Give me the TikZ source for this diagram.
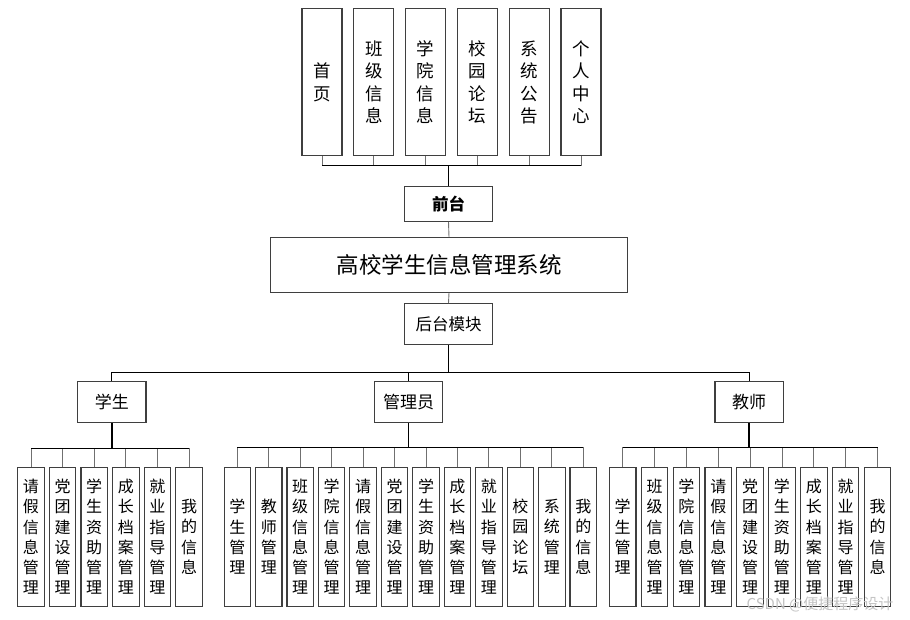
\documentclass[tikz,border=0pt]{standalone}
\usepackage{fontspec}
\setmainfont{Noto Sans CJK SC}
\XeTeXlinebreaklocale "zh"
\XeTeXlinebreakskip=0pt plus 1pt
\usetikzlibrary{positioning,calc}
\definecolor{boxEdge}{HTML}{3F3F3F}
\definecolor{stemGray}{HTML}{707070}
\definecolor{markGray}{HTML}{C4C4C4}

\tikzset{
  box/.style={draw=boxEdge, line width=1.1pt, fill=white, inner sep=0pt, align=center},
  topbox/.style={box, minimum width=40pt, minimum height=146.7pt, text width=20pt, font=\fontsize{17.5}{22.5}\selectfont},
  subbox/.style={box, minimum width=26.5pt, minimum height=139pt, text width=18pt, font=\fontsize{16}{20.2}\selectfont},
  rolebox/.style={box, minimum width=68.4pt, minimum height=41.3pt, font=\fontsize{17}{20}\selectfont},
  link/.style={stemGray, line width=0.9pt},
  bus/.style={black, line width=1pt},
  trunk/.style={black, line width=1.8pt},
}

\begin{document}
\begin{tikzpicture}[x=1pt, y=-1pt]
  \useasboundingbox (0,0) rectangle (910,620);

  % front end pages
  \foreach \t [count=\i] in {首页, 班级信息, 学院信息, 校园论坛, 系统公告, 个人中心}
    \node[topbox] (top\i) at ({322+51.8*(\i-1)}, 82.3) {\t};
  \node[box, minimum width=87.6pt, minimum height=34.6pt, font=\fontsize{16.5}{20}\selectfont\bfseries] (front) at (448.5,204) {前台};
  \node[box, minimum width=356.6pt, minimum height=54.6pt, font=\fontsize{22.5}{26}\selectfont] (sys) at (449,265) {高校学生信息管理系统};
  \node[box, minimum width=87.6pt, minimum height=41pt, font=\fontsize{16.5}{20}\selectfont] (back) at (448.5,324.2) {后台模块};

  \draw[trunk] (front.north) -- ++(0,-21) coordinate (fbus);
  \foreach \i in {1,...,6}
    \draw[link] (top\i.south) |- (fbus);
  \draw[bus] (top1.south |- fbus) -- (top6.south |- fbus);
  \draw[link] (front.south) -- (sys.north);
  \draw[link] (sys.south) -- (back.north);

  % roles
  \node[rolebox] (stu) at (111.8,401.8) {学生};
  \node[rolebox] (adm) at (408.5,401.8) {管理员};
  \node[rolebox] (tea) at (749.2,401.8) {教师};
  \draw[trunk] (back.south) -- ++(0,27) coordinate (hbus);
  \draw[bus] (stu.north) |- (hbus) -| (tea.north);
  \draw[bus] (adm.north) -- (adm.north |- hbus);

  % student functions
  \foreach \t [count=\i] in {请假信息管理, 党团建设管理, 学生资助管理, 成长档案管理, 就业指导管理, 我的信息}
    \node[subbox] (s\i) at ({31+31.6*(\i-1)}, 536.8) {\t};
  \draw[trunk] (stu.south) -- ++(0,25) coordinate (sbus);
  \foreach \i in {1,...,6}
    \draw[link] (s\i.north) |- (sbus);
  \draw[bus] (s1.north |- sbus) -- (s6.north |- sbus);

  % admin functions
  \foreach \t [count=\i] in {学生管理, 教师管理, 班级信息管理, 学院信息管理, 请假信息管理, 党团建设管理, 学生资助管理, 成长档案管理, 就业指导管理, 校园论坛, 系统管理, 我的信息}
    \node[subbox] (a\i) at ({237.3+31.45*(\i-1)}, 536.8) {\t};
  \draw[trunk] (adm.south) -- ++(0,24.5) coordinate (abus);
  \foreach \i in {1,...,12}
    \draw[link] (a\i.north) |- (abus);
  \draw[bus] (a1.north |- abus) -- (a12.north |- abus);

  % teacher functions
  \foreach \t [count=\i] in {学生管理, 班级信息管理, 学院信息管理, 请假信息管理, 党团建设管理, 学生资助管理, 成长档案管理, 就业指导管理, 我的信息}
    \node[subbox] (e\i) at ({622.7+31.85*(\i-1)}, 536.8) {\t};
  \draw[trunk] (tea.south) -- ++(0,24.5) coordinate (tbus);
  \foreach \i in {1,...,9}
    \draw[link] (e\i.north) |- (tbus);
  \draw[bus] (e1.north |- tbus) -- (e9.north |- tbus);

  \node[markGray, font=\fontsize{15}{15}\selectfont] (mark) at (820,604) {CSDN @便捷程序设计};
\end{tikzpicture}
\end{document}
